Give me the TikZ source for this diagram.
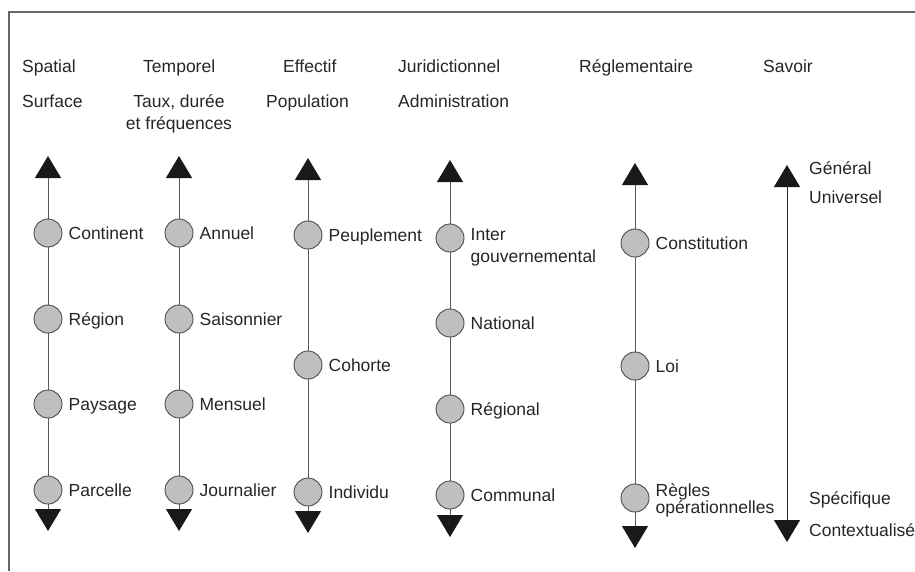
\documentclass[tikz,border=0pt]{standalone}
\usepackage{fontspec}
\setmainfont{Liberation Sans}
\usetikzlibrary{positioning,arrows.meta}

\tikzset{
  dot/.style={circle, draw=black!70, fill=black!25, line width=0.9pt, minimum size=28pt, inner sep=0pt},
  scale line/.style={draw=black!65, line width=1pt,
    {Triangle[length=22pt,width=26pt,color=black!90]}-{Triangle[length=22pt,width=26pt,color=black!90]}},
  lab/.style={inner sep=0pt, text=black!85, font=\fontsize{17.5}{21}\selectfont, text height=12.5pt, text depth=0pt},
  labtwo/.style={inner sep=0pt, text=black!85, align=left},
  head/.style={lab, anchor=west},
}

\begin{document}
\begin{tikzpicture}[x=1pt, y=-1pt]
    \useasboundingbox (0,0) rectangle (915,571);

    % Frame
    \draw[black!60, line width=1.2pt] (9,571) -- (9,12) -- (915,12);

    % Headers
    \node[head] (h-spatial) at (22,66) {Spatial};
    \node[head] (h-temp) at (143,66) {Temporel};
    \node[head] (h-eff) at (283,66) {Effectif};
    \node[head] (h-jur) at (398,66) {Juridictionnel};
    \node[head] (h-regl) at (579,66) {Réglementaire};
    \node[head] (h-sav) at (763,66) {Savoir};
    \node[head] (s-spatial) at (22,101) {Surface};
    \node[labtwo, align=center, font=\fontsize{17.5}{22}\selectfont] (s-temp) at (179,114) {Taux, durée\\et fréquences};
    \node[head] (s-eff) at (266,101) {Population};
    \node[head] (s-jur) at (398,101) {Administration};

    % Spatial
    \coordinate (a1-top) at (48,156);
    \coordinate (a1-bot) at (48,531);
    \draw[scale line] (a1-top) -- (a1-bot);
    \node[dot] (continent) at (48,233) {};
    \node[dot] (region) at (48,319) {};
    \node[dot] (paysage) at (48,404) {};
    \node[dot] (parcelle) at (48,490) {};
    \node[lab, right=6pt of continent] {Continent};
    \node[lab, right=6pt of region] {Région};
    \node[lab, right=6pt of paysage] {Paysage};
    \node[lab, right=6pt of parcelle] {Parcelle};

    % Temporel
    \coordinate (a2-top) at (179,156);
    \coordinate (a2-bot) at (179,531);
    \draw[scale line] (a2-top) -- (a2-bot);
    \node[dot] (annuel) at (179,233) {};
    \node[dot] (saison) at (179,319) {};
    \node[dot] (mensuel) at (179,404) {};
    \node[dot] (journal) at (179,490) {};
    \node[lab, right=6pt of annuel] {Annuel};
    \node[lab, right=6pt of saison] {Saisonnier};
    \node[lab, right=6pt of mensuel] {Mensuel};
    \node[lab, right=6pt of journal] {Journalier};

    % Effectif
    \coordinate (a3-top) at (308,158);
    \coordinate (a3-bot) at (308,533);
    \draw[scale line] (a3-top) -- (a3-bot);
    \node[dot] (peuple) at (308,235) {};
    \node[dot] (cohorte) at (308,365) {};
    \node[dot] (individu) at (308,492) {};
    \node[lab, right=6pt of peuple] {Peuplement};
    \node[lab, right=6pt of cohorte] {Cohorte};
    \node[lab, right=6pt of individu] {Individu};

    % Juridictionnel
    \coordinate (a4-top) at (450,160);
    \coordinate (a4-bot) at (450,537);
    \draw[scale line] (a4-top) -- (a4-bot);
    \node[dot] (inter) at (450,238) {};
    \node[dot] (national) at (450,323) {};
    \node[dot] (regional) at (450,409) {};
    \node[dot] (communal) at (450,495) {};
    \node[labtwo, font=\fontsize{17.5}{22}\selectfont, right=6pt of inter, yshift=-9pt] {Inter\\gouvernemental};
    \node[lab, right=6pt of national] {National};
    \node[lab, right=6pt of regional] {Régional};
    \node[lab, right=6pt of communal] {Communal};

    % Reglementaire
    \coordinate (a5-top) at (635,163);
    \coordinate (a5-bot) at (635,548);
    \draw[scale line] (a5-top) -- (a5-bot);
    \node[dot] (constit) at (635,243) {};
    \node[dot] (loi) at (635,366) {};
    \node[dot] (regles) at (635,498) {};
    \node[lab, right=6pt of constit] {Constitution};
    \node[lab, right=6pt of loi] {Loi};
    \node[labtwo, font=\fontsize{17.5}{17}\selectfont, right=6pt of regles, yshift=-2pt] {Règles\\opérationnelles};

    % Savoir
    \coordinate (a6-top) at (787,165);
    \coordinate (a6-bot) at (787,542);
    \draw[scale line, draw=black!85] (a6-top) -- (a6-bot);
    \node[head] (general) at (809,168) {Général};
    \node[head] (universel) at (809,197) {Universel};
    \node[head] (specif) at (809,498) {Spécifique};
    \node[head] (context) at (809,530) {Contextualisé};
\end{tikzpicture}
\end{document}
